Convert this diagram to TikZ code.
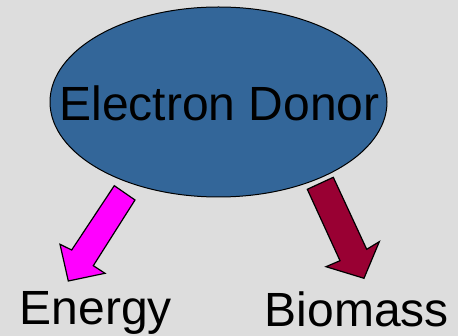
\documentclass[tikz,border=0pt]{standalone}
\usepackage{fontspec}
\setmainfont{Liberation Sans}
\usetikzlibrary{shapes.geometric}
\definecolor{colBG}{RGB}{221,221,221}
\definecolor{colDONOR}{RGB}{51,102,153}
\definecolor{colENERGY}{RGB}{255,0,255}
\definecolor{colBIO}{RGB}{153,0,51}
\begin{document}
\begin{tikzpicture}[x=1pt, y=-1pt,
    every node/.style={font=\fontsize{48}{52}\selectfont},
    blockarrow/.style={draw=black, line width=1.2pt, line join=miter}]
  % Background
  \fill[colBG] (0,0) rectangle (458,336);
  \useasboundingbox (0,0) rectangle (458,336);
  % Donor ellipse, text set on top
  \node[ellipse, draw=black, line width=1pt, fill=colDONOR, inner sep=0pt,
        minimum width=337pt, minimum height=190pt] (donor) at (218.5,102) {};
  \node[inner sep=0pt] (donortext) at ([xshift=1pt,yshift=-1pt]donor.center) {Electron Donor};
  % Block arrows (hand placed)
  \draw[blockarrow, fill=colENERGY]
    (114.3,185.7) -- (135,200) -- (93.3,265.7) -- (105,273.3) -- (68.3,281)
    -- (60,244.3) -- (71.7,250) -- cycle;
  \draw[blockarrow, fill=colBIO]
    (307.3,189.3) -- (333.3,177.3) -- (366.7,249.3) -- (379.3,241.7) -- (364,278.3)
    -- (326,266.7) -- (340,260.7) -- cycle;
  % Labels
  \node[anchor=base, inner sep=0pt] (energy) at (95.8,325) {Energy};
  \node[anchor=base, inner sep=0pt] (biomass) at (356.7,326.7) {Biomass};
\end{tikzpicture}
\end{document}
